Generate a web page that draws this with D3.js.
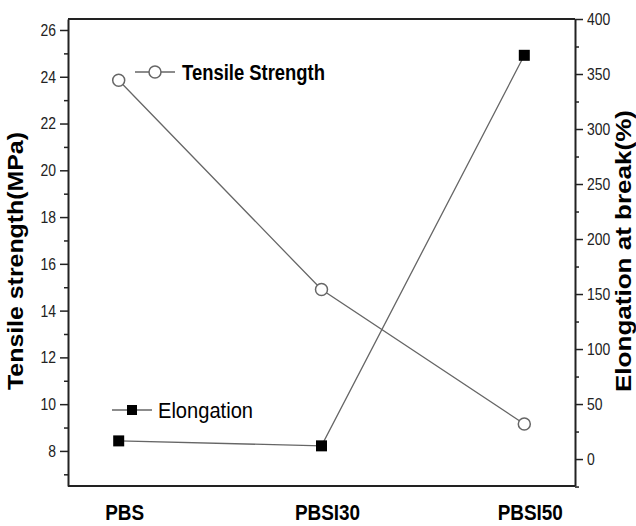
<!DOCTYPE html>
<html>
<head>
<meta charset="utf-8">
<script src="https://cdn.jsdelivr.net/npm/d3@7"></script>
<style>
body { margin: 0; background: #fff; }
text { font-family: "Liberation Sans Narrow", "Arial Narrow", "Liberation Sans", Arial, sans-serif; }
</style>
</head>
<body>
<svg id="chart"></svg>
<script>
var samples = ['PBS', 'PBSI30', 'PBSI50'];
var tensileStrength = [23.85, 14.9, 9.15];   // MPa, left axis
var elongation = [16.5, 12, 367];            // %, right axis
var leftTicks = [8, 10, 12, 14, 16, 18, 20, 22, 24, 26];
var rightTicks = [0, 50, 100, 150, 200, 250, 300, 350, 400];

var W = 636, H = 526;
var margin = {top: 19, right: 61, bottom: 40, left: 68},
    width = W - margin.left - margin.right,
    height = H - margin.top - margin.bottom;

var svg = d3.select("#chart")
    .attr("width", W)
    .attr("height", H)
    .append("g")
    .attr("transform", "translate(" + margin.left + "," + margin.top + ")");

// squeeze text horizontally (no narrow font installed)
function condense(sel, k)
{
    sel.each(function ()
    {
        var w = this.getComputedTextLength();
        d3.select(this).attr("textLength", w * k).attr("lengthAdjust", "spacingAndGlyphs");
    });
}

// x is a linear index scale so the categories sit 10% in from each side
var x = d3.scaleLinear().domain([-0.25, 2.25]).range([0, width]);
var yL = d3.scaleLinear().domain([6.5, 26.47]).range([height, 0]);
var yR = d3.scaleLinear().domain([-24.5, 400]).range([height, 0]);

// Left axis: major + minor ticks
var leftMinor = d3.range(7, 27, 2);
svg.append("g")
    .call(d3.axisLeft(yL).tickValues(leftMinor).tickSize(4).tickFormat(""))
    .call(g => g.select(".domain").remove());
var gl = svg.append("g")
    .call(d3.axisLeft(yL).tickValues(leftTicks).tickSize(8).tickPadding(4).tickSizeOuter(0));
gl.selectAll("text").style("font-size", "17px").attr("fill", "#222").call(condense, 0.82);

// Right axis
var rightMinor = d3.range(-25, 401, 50);
svg.append("g")
    .attr("transform", "translate(" + width + ",0)")
    .call(d3.axisRight(yR).tickValues(rightMinor).tickSize(4).tickFormat(""))
    .call(g => g.select(".domain").remove());
var gr = svg.append("g")
    .attr("transform", "translate(" + width + ",0)")
    .call(d3.axisRight(yR).tickValues(rightTicks).tickSize(8).tickPadding(4).tickSizeOuter(0));
gr.selectAll("text").style("font-size", "17px").attr("fill", "#222").call(condense, 0.82);

svg.selectAll(".domain").attr("stroke", "#222").attr("stroke-width", 2);
svg.selectAll(".tick line").attr("stroke", "#222").attr("stroke-width", 1.5);

// top and bottom frame lines
svg.append("line").attr("x1", 0).attr("x2", width).attr("y1", 0).attr("y2", 0)
    .attr("stroke", "#222").attr("stroke-width", 2);
svg.append("line").attr("x1", 0).attr("x2", width).attr("y1", height).attr("y2", height)
    .attr("stroke", "#222").attr("stroke-width", 2);

// category labels
svg.selectAll(".cat")
    .data(samples)
    .enter().append("text")
    .attr("class", "cat")
    .attr("x", (d, i) => x(i) + 6)
    .attr("y", height + 34)
    .attr("text-anchor", "middle")
    .style("font-size", "22px")
    .style("font-weight", "bold")
    .text(d => d)
    .call(condense, 0.86);

// lines
var lineT = d3.line().x((d, i) => x(i)).y(d => yL(d));
var lineE = d3.line().x((d, i) => x(i)).y(d => yR(d));

svg.append("path").datum(tensileStrength)
    .attr("d", lineT).attr("fill", "none").attr("stroke", "#666").attr("stroke-width", 1.3);
svg.append("path").datum(elongation)
    .attr("d", lineE).attr("fill", "none").attr("stroke", "#666").attr("stroke-width", 1.3);

svg.selectAll(".ts")
    .data(tensileStrength)
    .enter().append("circle")
    .attr("cx", (d, i) => x(i))
    .attr("cy", d => yL(d))
    .attr("r", 6)
    .attr("fill", "#fff")
    .attr("stroke", "#666")
    .attr("stroke-width", 1.5);

svg.selectAll(".el")
    .data(elongation)
    .enter().append("rect")
    .attr("x", (d, i) => x(i) - 5.5)
    .attr("y", d => yR(d) - 5.5)
    .attr("width", 11)
    .attr("height", 11)
    .attr("fill", "#000");

// legend
var lg1 = svg.append("g").attr("transform", "translate(67,53)");
lg1.append("line").attr("x1", 0).attr("x2", 40).attr("stroke", "#666").attr("stroke-width", 1.3);
lg1.append("circle").attr("cx", 20).attr("r", 6).attr("fill", "#fff").attr("stroke", "#666").attr("stroke-width", 1.5);
lg1.append("text").attr("x", 47).attr("y", 8).text("Tensile Strength")
    .style("font-size", "22px").style("font-weight", "bold")
    .attr("textLength", 143).attr("lengthAdjust", "spacingAndGlyphs");

var lg2 = svg.append("g").attr("transform", "translate(44,391)");
lg2.append("line").attr("x1", 0).attr("x2", 40).attr("stroke", "#666").attr("stroke-width", 1.3);
lg2.append("rect").attr("x", 15).attr("y", -5).attr("width", 10).attr("height", 10).attr("fill", "#000");
lg2.append("text").attr("x", 46).attr("y", 8).text("Elongation")
    .style("font-size", "22px")
    .attr("textLength", 95).attr("lengthAdjust", "spacingAndGlyphs");

// axis titles
svg.append("text")
    .attr("transform", "translate(-45," + (261 - margin.top) + ") rotate(-90)")
    .attr("text-anchor", "middle")
    .style("font-size", "22px").style("font-weight", "bold")
    .style("font-family", "'Liberation Sans', Arial, sans-serif")
    .attr("textLength", 258).attr("lengthAdjust", "spacingAndGlyphs")
    .text("Tensile strength(MPa)");

svg.append("text")
    .attr("transform", "translate(" + (width + 56) + "," + (251 - margin.top) + ") rotate(-90)")
    .attr("text-anchor", "middle")
    .style("font-size", "22px").style("font-weight", "bold")
    .style("font-family", "'Liberation Sans', Arial, sans-serif")
    .attr("textLength", 282).attr("lengthAdjust", "spacingAndGlyphs")
    .text("Elongation at break(%)");
</script>
</body>
</html>
